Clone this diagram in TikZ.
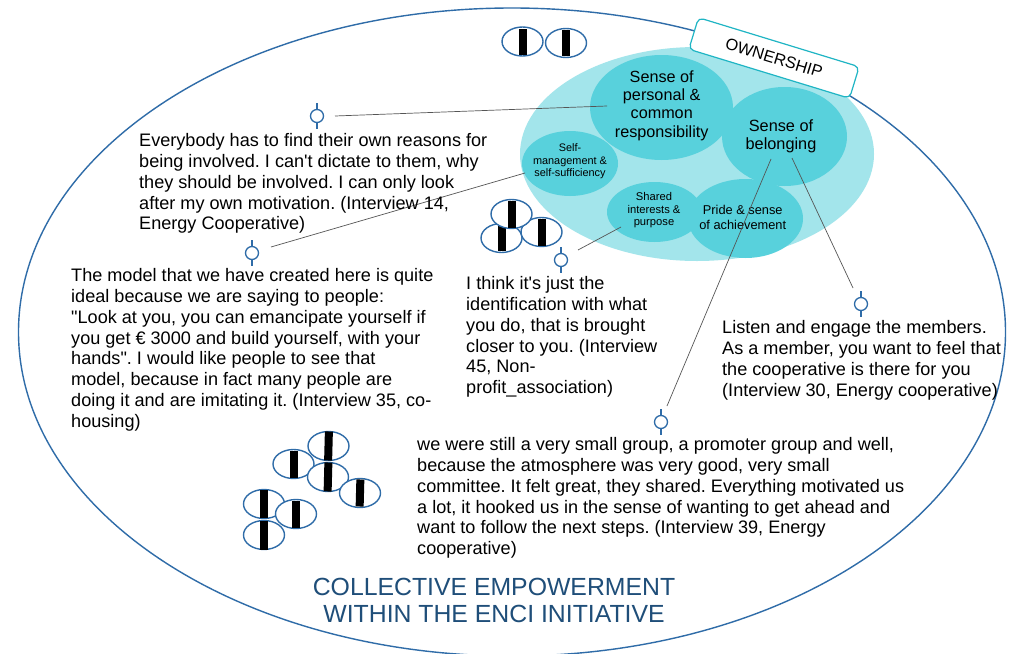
\documentclass[tikz,border=0pt]{standalone}
\usepackage{fontspec}
\setmainfont{Liberation Sans}[Ligatures=TeXOff]
\usetikzlibrary{shapes.geometric}
\definecolor{blueline}{HTML}{2F6CA8}
\definecolor{paleteal}{HTML}{A3E5EB}
\definecolor{midteal}{HTML}{58D1DC}
\definecolor{tealedge}{HTML}{1FB5C4}
\definecolor{titleblue}{HTML}{1F4E79}
\definecolor{leader}{HTML}{555555}
\tikzset{
  x=1pt,y=-1pt,
  blob/.style={ellipse,fill=midteal,inner sep=0pt},
  blobtext/.style={align=center,inner sep=0pt,text=black},
  body/.style={anchor=north west,align=left,inner sep=0pt,font=\fontsize{18.1}{20.9}\selectfont\frenchspacing,text=black},
  leaderline/.style={draw=leader,line width=0.7pt},
  eyeshape/.style={ellipse,draw=blueline,line width=1.4pt,fill=white,minimum width=41pt,minimum height=29pt,inner sep=0pt},
  barfill/.style={fill=black,draw=none,minimum width=8pt,inner sep=0pt},
  markcircle/.style={circle,draw=blueline,line width=1.3pt,minimum size=13pt,inner sep=0pt},
  marktick/.style={draw=blueline,line width=1.3pt},
}
\newcommand{\eyeat}[5]{%
  \node[eyeshape] (#1) at (#2,#3) {};
  \node[barfill,minimum height=#4pt,rotate=#5] at (#2,#3) {};
}
\newcommand{\markat}[3]{%
  \node[markcircle] (#1) at (#2,#3) {};
  \draw[marktick] (#1.north) -- ++(0,-6);
  \draw[marktick] (#1.south) -- ++(0,6);
}
\begin{document}
\begin{tikzpicture}
\useasboundingbox (0,0) rectangle (1011,653);
\fill[white] (0,0) rectangle (1011,653);
% outer ellipse, running past the lower edge of the picture
\begin{scope}
\clip (0,0) rectangle (1011,653);
\node[ellipse,draw=blueline,line width=1.4pt,inner sep=0pt,minimum width=987pt,minimum height=648pt] (outerell) at (512,332) {};
\end{scope}
% ownership cluster
\node[ellipse,fill=paleteal,minimum width=354pt,minimum height=214pt,inner sep=0pt] (cluster) at (697,154) {};
\node[blob,minimum width=143pt,minimum height=105pt] (resp) at (661.5,107.5) {};
\node[blob,minimum width=125pt,minimum height=99pt] (belong) at (784.5,136.5) {};
\node[blob,minimum width=96pt,minimum height=65pt] (selfm) at (570,163.5) {};
\node[blob,minimum width=115pt,minimum height=79pt] (pride) at (745.5,218.5) {};
\node[blob,minimum width=95pt,minimum height=60pt] (shared) at (654.5,212) {};
\node[blobtext,font=\fontsize{16.2}{18.3}\selectfont] (resptext) at (661.7,105.5) {Sense of\\personal \&\\common\\responsibility};
\node[blobtext,font=\fontsize{16.3}{18.3}\selectfont] (belongtext) at (781,136) {Sense of\\belonging};
\node[blobtext,font=\fontsize{10.9}{12.5}\selectfont] (selfmtext) at (570,161.5) {Self-\\management \&\\self-sufficiency};
\node[blobtext,font=\fontsize{12.8}{15}\selectfont] (pridetext) at (742.7,217.5) {Pride \& sense\\of achievement};
\node[blobtext,font=\fontsize{11.2}{12.5}\selectfont] (sharedtext) at (654,210.5) {Shared\\interests \&\\purpose};
% ownership label
\node[rectangle,rounded corners=5pt,draw=tealedge,fill=white,line width=1.2pt,minimum width=168pt,minimum height=33pt,rotate=-17,inner sep=0pt] (own) at (774,58) {\fontsize{16.3}{18}\selectfont OWNERSHIP};
% eyes
\eyeat{ea}{522.5}{41.5}{26}{0}
\eyeat{eb}{566}{43}{26}{0}
\eyeat{ec}{501.5}{238}{26}{0}
\eyeat{ed}{541.5}{232}{27}{0}
\eyeat{ee}{511.5}{214}{27}{0}
\eyeat{ef}{293.5}{464}{27}{0}
\eyeat{eg}{328.5}{446}{29}{-1.5}
\eyeat{eh}{328}{477}{29}{-1.5}
\eyeat{ei}{360}{493}{27}{-1.5}
\eyeat{ej}{264}{504}{28}{0}
\eyeat{ek}{296}{514}{27}{0}
\eyeat{el}{264}{535}{29}{0}
% markers
\markat{ma}{317}{116}
\markat{mb}{252}{253}
\markat{mc}{561}{260}
\markat{md}{861}{304}
\markat{me}{661}{422}
% connector ends
\coordinate (sa) at (335,116);
\coordinate (sb) at (271,247);
\coordinate (sc) at (578,250);
\coordinate (sd) at (853,288);
\coordinate (se) at (667,406);
\coordinate (ra) at (607,106);
\coordinate (rb) at (525,173);
\coordinate (rc) at (621,227);
\coordinate (rd) at (792,158);
\coordinate (re) at (771,159);
\draw[leaderline] (sa) -- (ra);
\draw[leaderline] (sb) -- (rb);
\draw[leaderline] (sc) -- (rc);
\draw[leaderline] (sd) -- (rd);
\draw[leaderline] (se) -- (re);
% texts
\node[body] (ta) at (139,133) {Everybody has to find their own reasons for\\being involved. I can't dictate to them, why\\they should be involved. I can only look\\after my own motivation. (Interview 14,\\Energy Cooperative)};
\node[body] (tb) at (71,268) {The model that we have created here is quite\\ideal because we are saying to people:\\"Look at you, you can emancipate yourself if\\you get € 3000 and build yourself, with your\\hands". I would like people to see that\\model, because in fact many people are\\doing it and are imitating it. (Interview 35, co-\\housing)};
\node[body] (tc) at (466,276) {I think it's just the\\identification with what\\you do, that is brought\\closer to you. (Interview\\45, Non-\\profit\_association)};
\node[body] (td) at (722,320) {Listen and engage the members.\\As a member, you want to feel that\\the cooperative is there for you\\(Interview 30, Energy cooperative)};
\node[body] (te) at (417,437) {we were still a very small group, a promoter group and well,\\because the atmosphere was very good, very small\\committee. It felt great, they shared. Everything motivated us\\a lot, it hooked us in the sense of wanting to get ahead and\\want to follow the next steps. (Interview 39, Energy\\cooperative)};
\node[align=center,inner sep=0pt,text=titleblue,font=\fontsize{24.8}{27.5}\selectfont] (title) at (494,600.5) {COLLECTIVE EMPOWERMENT\\WITHIN THE ENCI INITIATIVE};
\end{tikzpicture}
\end{document}
